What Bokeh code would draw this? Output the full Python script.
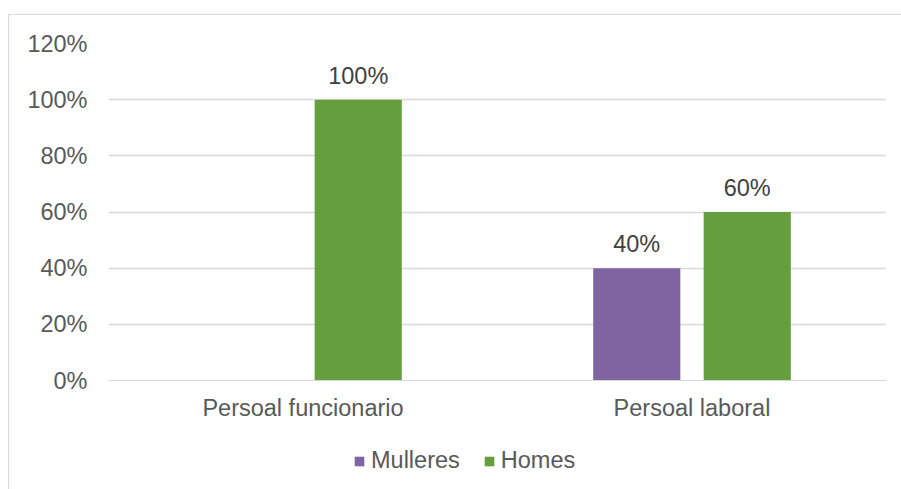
from bokeh.plotting import figure
from bokeh.layouts import column
from bokeh.models import (ColumnDataSource, FactorRange, Range1d, Legend, LegendItem,
                          LabelSet, NumeralTickFormatter, FixedTicker)
from bokeh.core.properties import value
from bokeh.transform import dodge
from bokeh.embed import file_html
from bokeh.resources import INLINE

categories = ["Persoal funcionario", "Persoal laboral"]
series_names = ["Mulleres", "Homes"]
mulleres = [0.0, 0.40]
homes = [1.0, 0.60]
y_ticks = [0, 0.2, 0.4, 0.6, 0.8, 1.0, 1.2]

colors = {"Mulleres": "#8064A2", "Homes": "#649E3F"}
FONT = "Liberation Sans"
FS = "23.5px"

src = ColumnDataSource(dict(cat=categories, Mulleres=mulleres, Homes=homes))

p = figure(width=892, height=420, x_range=FactorRange(*categories, range_padding=0),
           y_range=Range1d(0, 1.2), output_backend="svg", toolbar_location=None,
           min_border_left=99, min_border_right=15, min_border_top=28, min_border_bottom=55)
p.x_range.factor_padding = 0
p.outline_line_color = None
p.background_fill_color = "white"
p.border_fill_color = "white"

offsets = {"Mulleres": -0.142, "Homes": 0.142}
for name in series_names:
    p.vbar(x=dodge("cat", offsets[name], range=p.x_range), top=name, width=0.224,
           source=src, fill_color=colors[name], line_color=None)

# data labels for non-zero values
for name in series_names:
    vals = src.data[name]
    cats = [c for c, v in zip(categories, vals) if v > 0]
    vs = [v for v in vals if v > 0]
    txt = [f"{round(v * 100)}%" for v in vs]
    ls_src = ColumnDataSource(dict(cat=cats, v=vs, t=txt))
    labels = LabelSet(x=dodge("cat", offsets[name], range=p.x_range), y="v", text="t",
                      source=ls_src, text_align="center", text_baseline="alphabetic",
                      y_offset=16, text_font=value(FONT), text_font_size=value(FS),
                      text_color="#404040")
    p.add_layout(labels)

p.yaxis.ticker = FixedTicker(ticks=y_ticks)
p.yaxis.formatter = NumeralTickFormatter(format="0%")
p.yaxis.axis_line_color = None
p.yaxis.major_tick_line_color = None
p.yaxis.minor_tick_line_color = None
p.yaxis.major_label_standoff = 15
p.yaxis.major_label_text_font = FONT
p.yaxis.major_label_text_font_size = FS
p.yaxis.major_label_text_color = "#595959"

p.xaxis.axis_line_color = "#d9d9d9"
p.xaxis.axis_line_width = 1
p.xaxis.major_tick_line_color = None
p.xaxis.minor_tick_line_color = None
p.xaxis.major_label_standoff = 8
p.xaxis.major_label_text_font = FONT
p.xaxis.major_label_text_font_size = FS
p.xaxis.major_label_text_color = "#595959"

p.xgrid.grid_line_color = None
p.ygrid.grid_line_color = "#d9d9d9"
p.ygrid.grid_line_width = 1.3

# legend strip below the chart (swatch renderers have zero height, so only the legend shows)
pl = figure(width=892, height=54, x_range=Range1d(0, 1), y_range=Range1d(0, 1),
            output_backend="svg", toolbar_location=None,
            min_border_left=0, min_border_right=0, min_border_top=0, min_border_bottom=0)
pl.axis.visible = False
pl.grid.visible = False
pl.outline_line_color = None
pl.background_fill_color = "white"
pl.border_fill_color = "white"
leg_renderers = {}
for name in series_names:
    leg_renderers[name] = pl.vbar(x=[0.5], top=[0], bottom=0, width=0.01,
                                  fill_color=colors[name], line_color=None)

legend = Legend(items=[LegendItem(label=n, renderers=[leg_renderers[n]]) for n in series_names],
                orientation="horizontal", location=(245, 15),
                label_text_font=FONT, label_text_font_size=FS, label_text_color="#595959",
                glyph_width=12, glyph_height=12, label_standoff=6, spacing=23,
                border_line_color=None, background_fill_alpha=0, padding=4, margin=0)
pl.add_layout(legend)

layout = column(p, pl, spacing=0,
                styles={"margin-left": "8px", "margin-top": "14px",
                        "border-left": "1px solid #d9d9d9", "border-top": "1px solid #d9d9d9"})

open("out.html", "w").write(file_html(layout, INLINE))
